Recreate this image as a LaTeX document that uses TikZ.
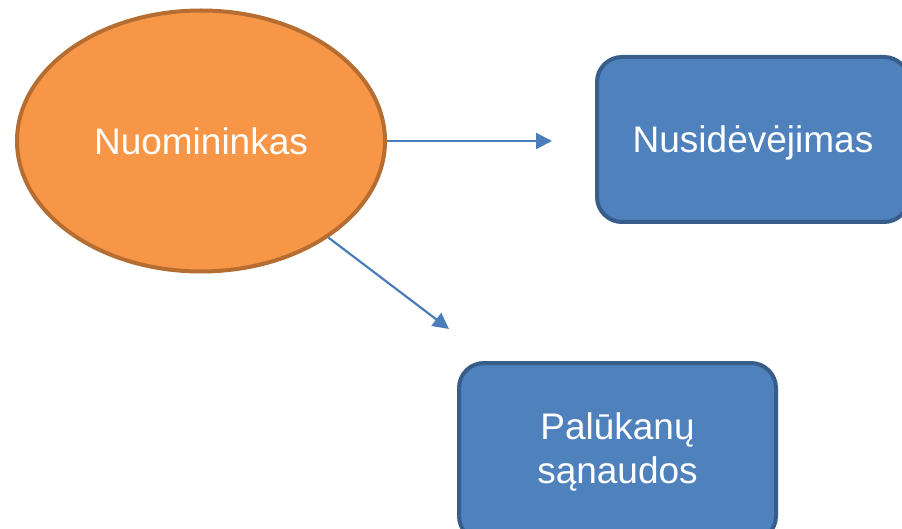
\documentclass[tikz,border=0pt]{standalone}
\usepackage{fontspec}
\setmainfont{Liberation Sans}
\usetikzlibrary{shapes.geometric,arrows.meta}
\definecolor{orfill}{HTML}{F79646}
\definecolor{ordraw}{HTML}{B66D31}
\definecolor{blfill}{HTML}{4F81BD}
\definecolor{bldraw}{HTML}{385D8A}
\definecolor{arrowcol}{HTML}{4A7EBB}
\begin{document}
\begin{tikzpicture}[x=1pt,y=-1pt,
  lbl/.style={text=white,font=\fontsize{37}{44}\selectfont,align=center,inner sep=0pt},
  oval/.style={lbl,ellipse,fill=orfill,draw=ordraw,line width=4pt},
  blockbox/.style={lbl,rectangle,rounded corners=25pt,fill=blfill,draw=bldraw,line width=4pt},
  link/.style={draw=arrowcol,line width=2.2pt,-{Triangle[length=16pt,width=16pt]}}]
  \clip (0,0) rectangle (902,529);
  \node[oval,minimum width=368pt,minimum height=261pt] (nuo) at (201,141) {Nuomininkas};
  \node[blockbox,minimum width=312pt,minimum height=165pt,text depth=0pt] (nus) at (753,139.5) {Nusidėvėjimas};
  \node[blockbox,minimum width=317pt,minimum height=178pt] (pal) at (617.5,452) {Palūkanų\\sąnaudos};
  \coordinate (t1) at (552,141);
  \coordinate (t2) at (449,329);
  \draw[link] (nuo) -- (t1);
  \draw[link] (nuo) -- (t2);
\end{tikzpicture}
\end{document}
